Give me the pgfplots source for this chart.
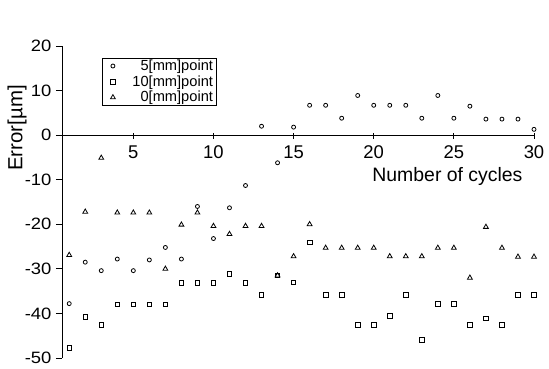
\documentclass[border=0pt]{standalone}
\usepackage{pgfplots}
\pgfplotsset{compat=1.18}
\usepackage{fontspec}
\setmainfont{Liberation Sans}
\newfontfamily\tickfont[FakeStretch=1.12]{Liberation Sans}
\begin{document}
\begin{tikzpicture}
\begin{axis}[
  scale only axis,
  width=472bp, height=312bp,
  xmin=0.55, xmax=30, ymin=-50, ymax=20,
  axis x line=middle, axis y line=left,
  axis line style={-, line width=0.8bp},
  every inner x axis line/.append style={-},
  every outer y axis line/.append style={-},
  hide obscured x ticks=false, hide obscured y ticks=false,
  xtick={5,10,...,30}, ytick={-50,-40,...,20},
  tick align=outside, major tick length=6bp,
  tick style={line width=0.8bp, black},
  x tick style={yshift=2.5bp},
  /pgf/number format/assume math mode=true,
  x tick label style={font=\fontsize{18.5}{19}\selectfont, yshift=-1bp},
  y tick label style={font=\tickfont\fontsize{16.5}{17}\selectfont, xshift=-1bp},
  xlabel={Number of cycles},
  xlabel style={at={(axis cs:24.6,-10.4)}, anchor=base, font=\fontsize{19.5}{20}\selectfont},
  ylabel={Error[µm]},
  ylabel style={at={(axis description cs:-0.095,0.737)}, anchor=center, font=\fontsize{20.5}{21}\selectfont},
  legend style={at={(axis description cs:0.085,0.962)}, anchor=north west, draw=black, line width=0.6bp,
    font=\fontsize{14.7}{15}\selectfont, inner sep=1.5pt, row sep=3bp, fill=white,
    nodes={inner ysep=0.3bp, inner xsep=1.5bp}},
  legend cell align=right,
  legend image code/.code={\path[draw=none,fill=none] (0bp,0bp) -- (27bp,0bp); \draw[#1] plot[only marks] coordinates {(9bp,0bp)};},
  clip=false,
]
\addplot[only marks, mark=o, mark size=2bp, mark options={line width=0.8bp}, black] coordinates {
(1,-37.8) (2,-28.5) (3,-30.4) (4,-27.8) (5,-30.4) (6,-28) (7,-25.2) (8,-27.8) (9,-16) (10,-23.2)
(11,-16.3) (12,-11.3) (13,2) (14,-6.2) (15,1.8) (16,6.7) (17,6.7) (18,3.8) (19,8.9) (20,6.7)
(21,6.7) (22,6.7) (23,3.8) (24,8.9) (25,3.8) (26,6.5) (27,3.6) (28,3.6) (29,3.6) (30,1.3)};
\addlegendentry{5[mm]point}
\addplot[only marks, mark=square, mark size=2.3bp, mark options={line width=0.8bp}, black] coordinates {
(1,-47.8) (2,-40.8) (3,-42.6) (4,-38) (5,-38) (6,-38) (7,-38) (8,-33.1) (9,-33.1) (10,-33.1)
(11,-31.1) (12,-33.1) (13,-35.9) (14,-31.5) (15,-33) (16,-24.1) (17,-35.9) (18,-35.9) (19,-42.6) (20,-42.6)
(21,-40.6) (22,-35.9) (23,-45.9) (24,-37.8) (25,-37.8) (26,-42.6) (27,-41.1) (28,-42.6) (29,-35.9) (30,-35.9)};
\addlegendentry{10[mm]point}
\addplot[only marks, mark=triangle, mark size=2.8bp, mark options={line width=0.8bp}, black] coordinates {
(1,-26.9) (2,-17.2) (3,-5.1) (4,-17.4) (5,-17.4) (6,-17.4) (7,-30) (8,-20.1) (9,-17.4) (10,-20.4)
(11,-22.2) (12,-20.4) (13,-20.4) (14,-31.5) (15,-27.2) (16,-20) (17,-25.3) (18,-25.3) (19,-25.3) (20,-25.3)
(21,-27.2) (22,-27.2) (23,-27.2) (24,-25.3) (25,-25.3) (26,-32) (27,-20.6) (28,-25.3) (29,-27.3) (30,-27.3)};
\addlegendentry{0[mm]point}
\end{axis}
\pgfresetboundingbox
\path[use as bounding box] (-62bp,-11bp) rectangle (487bp,358bp);
\end{tikzpicture}
\end{document}
